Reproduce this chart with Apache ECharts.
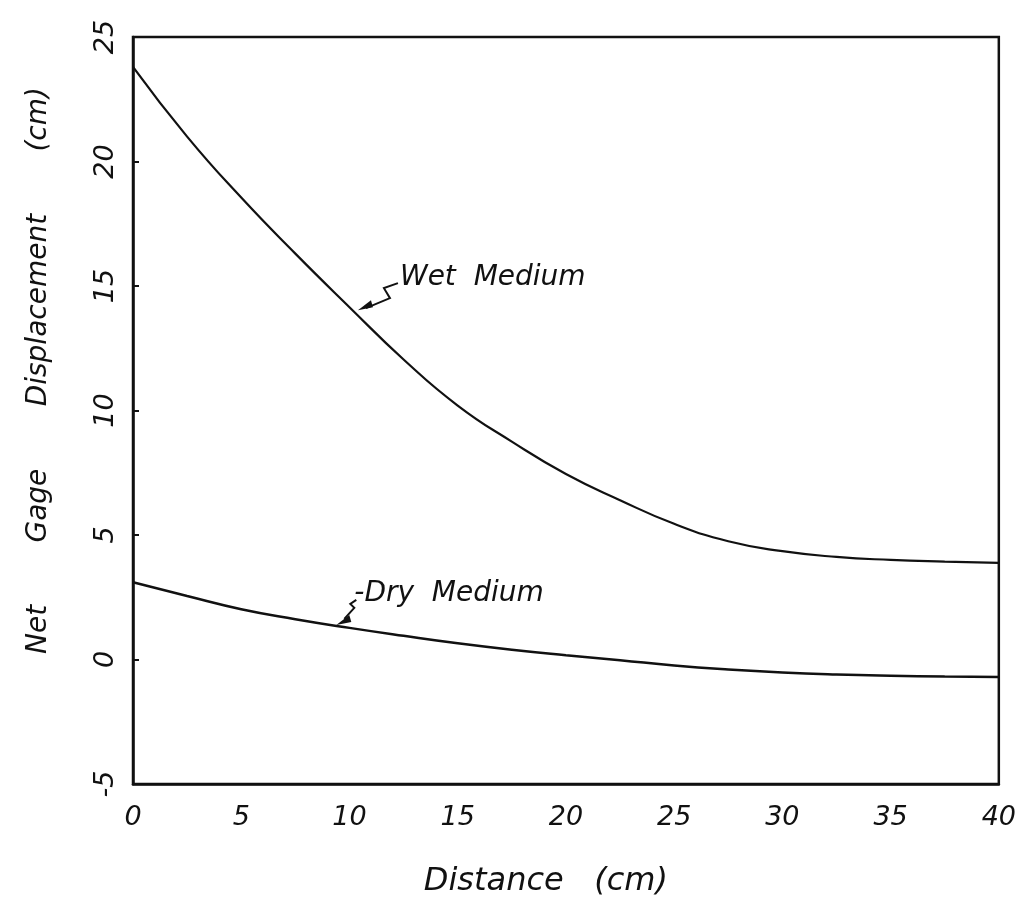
<!DOCTYPE html>
<html>
<head>
<meta charset="utf-8">
<script src="https://cdn.jsdelivr.net/npm/echarts@6/dist/echarts.min.js"></script>
<style>
  html, body { margin: 0; padding: 0; background: #fff; }
  #main { width: 1019px; height: 909px; }
</style>
</head>
<body>
<div id="main"></div>
<script>
// distance (cm)
var distance = [0, 2.5, 5, 7.5, 10, 12.5, 15, 17.5, 20, 22.5, 25, 27.5, 30, 32.5, 35, 37.5, 40];
// net gage displacement (cm)
var wetMedium = [23.8, 21.0, 18.55, 16.3, 14.15, 12.05, 10.2, 8.75, 7.45, 6.4, 5.45, 4.75, 4.35, 4.12, 4.0, 3.93, 3.88];
var dryMedium = [3.1, 2.55, 2.02, 1.62, 1.27, 0.95, 0.65, 0.39, 0.17, -0.03, -0.24, -0.4, -0.52, -0.6, -0.65, -0.68, -0.7];
var xTicks = ['0', '5', '10', '15', '20', '25', '30', '35', '40'];

var font = 'DejaVu Sans';
var ink = '#111';

function pairs(xs, ys) {
    return xs.map(function (x, i) { return [x, ys[i]]; });
}

var myChart = echarts.init(document.getElementById('main'));

myChart.setOption({
    backgroundColor: '#fff',
    animation: false,
    grid: {
        left: 133, right: 16, top: 37, bottom: 125,
        show: true, borderColor: ink, borderWidth: 2.5
    },
    xAxis: {
        type: 'value',
        min: 0, max: 40, interval: 5,
        name: 'Distance   (cm)',
        nameLocation: 'middle',
        nameGap: 82,
        nameTextStyle: { fontFamily: font, fontStyle: 'italic', fontSize: 32, color: ink, padding: [0, 40, 0, 0] },
        axisLine: { show: true, onZero: false, lineStyle: { color: ink, width: 2.5 } },
        axisTick: { show: false },
        splitLine: { show: false },
        axisLabel: {
            margin: 20,
            fontFamily: font, fontStyle: 'italic', fontSize: 27, color: ink,
            formatter: function (v) { return xTicks[v / 5]; }
        }
    },
    yAxis: {
        type: 'value',
        min: -5, max: 25, interval: 5,
        name: 'Net       Gage       Displacement       (cm)',
        nameLocation: 'middle',
        nameGap: 80,
        nameTextStyle: { fontFamily: font, fontStyle: 'italic', fontSize: 28, color: ink, padding: [0, 0, 0, 80] },
        axisLine: { show: true, onZero: false, lineStyle: { color: ink, width: 2.5 } },
        axisTick: { show: true, inside: true, length: 6, lineStyle: { color: ink, width: 2 } },
        splitLine: { show: false },
        axisLabel: {
            rotate: 90,
            margin: 14,
            fontFamily: font, fontStyle: 'italic', fontSize: 27, color: ink
        }
    },
    series: [
        {
            name: 'Wet Medium',
            type: 'line',
            smooth: true,
            showSymbol: false,
            lineStyle: { color: ink, width: 2.2 },
            data: pairs(distance, wetMedium)
        },
        {
            name: 'Dry Medium',
            type: 'line',
            smooth: true,
            showSymbol: false,
            lineStyle: { color: ink, width: 2.5 },
            data: pairs(distance, dryMedium)
        }
    ]
});

// curve annotations placed from data coordinates
var wetTip = myChart.convertToPixel({ seriesIndex: 0 }, [10.3, 13.95]);
var dryTip = myChart.convertToPixel({ seriesIndex: 1 }, [9.3, 1.35]);

function arrowHead(tip) {
    return {
        type: 'polygon',
        shape: { points: [tip, [tip[0] + 13, tip[1] - 10], [tip[0] + 15, tip[1] - 3]] },
        style: { fill: ink }
    };
}

myChart.setOption({
    graphic: [
        {
            type: 'polyline',
            shape: {
                points: [
                    [wetTip[0] + 42, wetTip[1] - 29],
                    [wetTip[0] + 28, wetTip[1] - 24],
                    [wetTip[0] + 34, wetTip[1] - 14],
                    [wetTip[0] + 10, wetTip[1] - 4]
                ]
            },
            style: { stroke: ink, lineWidth: 2, fill: null }
        },
        arrowHead([wetTip[0] + 2, wetTip[1] - 2]),
        {
            type: 'polyline',
            shape: {
                points: [
                    [dryTip[0] + 22, dryTip[1] - 26],
                    [dryTip[0] + 16, dryTip[1] - 22],
                    [dryTip[0] + 20, dryTip[1] - 18],
                    [dryTip[0] + 10, dryTip[1] - 7]
                ]
            },
            style: { stroke: ink, lineWidth: 2, fill: null }
        },
        arrowHead([dryTip[0] + 2, dryTip[1] - 1]),
        {
            type: 'text',
            left: wetTip[0] + 44, top: wetTip[1] - 48,
            style: { text: 'Wet  Medium', font: 'italic 28px "DejaVu Sans"', fill: ink }
        },
        {
            type: 'text',
            left: dryTip[0] + 20, top: dryTip[1] - 46,
            style: { text: '-Dry  Medium', font: 'italic 28px "DejaVu Sans"', fill: ink }
        }
    ]
});
</script>
</body>
</html>
